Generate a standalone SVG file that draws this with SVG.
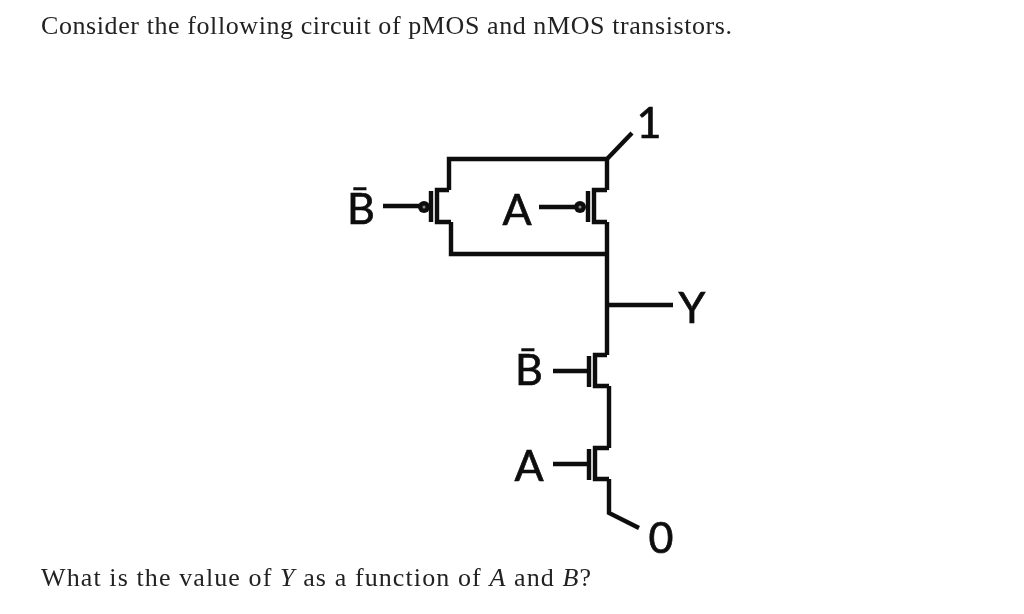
<svg xmlns="http://www.w3.org/2000/svg" width="1024" height="614" viewBox="0 0 1024 614">
<style>
.w{fill:none;stroke:#111;stroke-width:4.4;stroke-linejoin:miter;stroke-linecap:butt}
.b{fill:#111;stroke:none}
.h{fill:#888;stroke:none}
.l{font-family:Lato,"Open Sans",sans-serif;font-size:43px;fill:#111;stroke:#111;stroke-width:0.7;text-anchor:middle}
.t{font-family:"Liberation Serif",serif;font-size:26px;fill:#222}
.i{font-style:italic}
</style>
<defs><filter id="s" x="-5%" y="-5%" width="110%" height="110%"><feGaussianBlur stdDeviation="0.55"/></filter></defs>
<rect width="1024" height="614" fill="#fff"/>
<g filter="url(#s)">
<text class="t" x="41" y="34" textLength="691" lengthAdjust="spacing">Consider the following circuit of pMOS and nMOS transistors.</text>
<text class="t" x="41" y="586" textLength="550" lengthAdjust="spacing">What is the value of <tspan class="i">Y</tspan> as a function of <tspan class="i">A</tspan> and <tspan class="i">B</tspan>?</text>
<g id="connectors">
<path class="w" d="M632 133L607 159"/>
<path class="w" d="M607 159H449V190"/>
<path class="w" d="M451 222V254H607"/>
<path class="w" d="M607 159V190"/>
<path class="w" d="M607 222V355"/>
<path class="w" d="M607 305H673"/>
<path class="w" d="M609 386V448"/>
<path class="w" d="M609 479V513L639 528"/>
</g>
<g id="pmos-b">
<path class="w" d="M449 190H437V222H451"/>
<path class="w" d="M431 191V222"/>
<path class="w" d="M383 206H423"/>
<circle class="b" cx="424" cy="207" r="6"/><circle class="h" cx="424" cy="207" r="1.5"/>
</g>
<g id="pmos-a">
<path class="w" d="M607 190H594V222H607"/>
<path class="w" d="M588 191V222"/>
<path class="w" d="M539 207H580"/>
<circle class="b" cx="580" cy="207" r="6"/><circle class="h" cx="580" cy="207" r="1.5"/>
</g>
<g id="nmos-b">
<path class="w" d="M607 355H595V386H609"/>
<path class="w" d="M589 356V387"/>
<path class="w" d="M553 371H589"/>
</g>
<g id="nmos-a">
<path class="w" d="M609 448H595V479H609"/>
<path class="w" d="M589 449V480"/>
<path class="w" d="M553 464H589"/>
</g>
<g id="labels">
<text class="l" x="361" y="224">B̄</text>
<text class="l" x="517" y="225">A</text>
<text class="l" x="649" y="138">1</text>
<text class="l" x="692" y="323">Y</text>
<text class="l" x="529" y="385">B̄</text>
<text class="l" x="529" y="481">A</text>
<text class="l" x="661" y="553">0</text>
</g>
</g>
</svg>
